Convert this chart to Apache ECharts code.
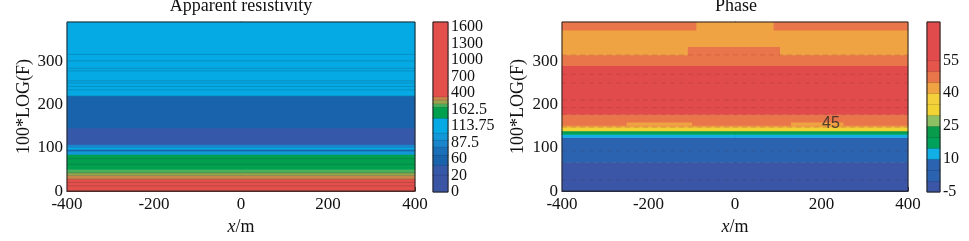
<!DOCTYPE html>
<html>
<head>
<meta charset="utf-8">
<script src="https://cdn.jsdelivr.net/npm/echarts@6/dist/echarts.min.js"></script>
<style>
html, body { margin: 0; padding: 0; background: #fff; }
#main { width: 969px; height: 241px; }
</style>
</head>
<body>
<div id="main"></div>
<script>
// ---- apparent resistivity ----
// colour bar tick labels (evenly spaced on the bar)
var resTicks = ['0', '20', '60', '87.5', '113.75', '162.5', '400', '700', '1000', '1300', '1600'];
// colour level boundaries, in colour bar tick units
var resLevelEdges = [0, 1.03, 1.64, 2.24, 2.73, 3.15, 3.58, 4.48, 5.15, 5.36, 5.58, 5.78, 10.3];
// horizontal bands of the section (100*LOG(F)) and their colour level
var resBandFrom  = [0, 28, 36, 42, 50, 85, 93, 97, 101, 108, 146, 220];
var resBandTo    = [28, 36, 42, 50, 85, 93, 97, 101, 108, 146, 220, 391];
var resBandLevel = [11, 10, 9, 8, 7, 5, 3, 6, 4, 1, 2, 6];
// contour lines
var resContours = [12, 20, 28, 36, 42, 62, 75, 93, 220, 234, 242, 250, 255, 278, 284, 301, 316];

// ---- phase ----
var phaseTicks = [-5, 10, 25, 40, 55];
var phaseEdges = [-5, 0, 5, 10, 15, 20, 25, 30, 35, 40, 45, 50, 55, 72.5];
// patches of the section: x range, 100*LOG(F) range, phase value
var phaseX0 = [-400, -400, -400, -400, -400, -400, -400, -400, -400, -400, -250, 130, -110, -400, 105, -400, 90, -90, -400, 90];
var phaseX1 = [400, 400, 400, 400, 400, 400, 400, 400, 400, 400, -100, 250, 105, -110, 400, -90, 400, 90, -90, 400];
var phaseY0 = [0, 66, 124, 131, 135, 139, 148, 152, 177, 290, 152, 152, 315, 315, 315, 334, 334, 334, 372, 372];
var phaseY1 = [66, 124, 131, 135, 139, 148, 152, 177, 290, 315, 158, 158, 334, 334, 334, 372, 372, 391, 391, 391];
var phaseVal = [-2, 5, 12, 17, 22, 33, 42, 47, 57, 47, 42, 42, 47, 42, 42, 42, 42, 42, 47, 47];
var phaseContours = [25, 66, 93, 148, 177, 193, 211, 250, 270, 315];
var phaseLabelX = [222];
var phaseLabelY = [155];
var phaseLabelText = ['45'];

var resColors = ['#3b55a5', '#3658a8', '#1963ad', '#1a70b8', '#1a85ca', '#1298d8',
                 '#05a9e4', '#00a04f', '#4cae5a', '#9ca34f', '#c8864a', '#e3504b'];
var phaseColors = ['#3b56a6', '#2c63b1', '#2c63b1', '#12aee6', '#00a15a', '#089b4c', '#8dc063',
                   '#f2d335', '#f4d03c', '#f0a343', '#e9764a', '#e4554b', '#e24b4b'];

function phaseColor(v) {
    for (var i = 0; i < phaseEdges.length - 1; i++) {
        if (v < phaseEdges[i + 1]) return phaseColors[i];
    }
    return phaseColors[phaseColors.length - 1];
}

// data: [x0, x1, y0, y1, v]
function rectRenderer(colorOf, stroke) {
    return function (params, api) {
        var a = api.coord([api.value(0), api.value(3)]);
        var b = api.coord([api.value(1), api.value(2)]);
        return {
            type: 'rect',
            shape: { x: a[0] - 0.3, y: a[1] - 0.3, width: b[0] - a[0] + 0.6, height: b[1] - a[1] + 0.6 },
            style: { fill: colorOf(api.value(4)), stroke: stroke || null, lineWidth: stroke ? 0.5 : 0 }
        };
    };
}
function lineRenderer(dash, stroke) {
    return function (params, api) {
        var a = api.coord([-400, api.value(0)]);
        var b = api.coord([400, api.value(0)]);
        return {
            type: 'line',
            shape: { x1: a[0], y1: a[1], x2: b[0], y2: b[1] },
            style: { stroke: stroke, lineWidth: 0.6, lineDash: dash }
        };
    };
}

var resRects = resBandFrom.map(function (f, i) { return [-400, 400, f, resBandTo[i], resBandLevel[i]]; });
var resBar = [];
for (var i = 0; i < resLevelEdges.length - 1; i++) resBar.push([0, 1, resLevelEdges[i], resLevelEdges[i + 1], i]);
var phaseRects = phaseVal.map(function (v, i) { return [phaseX0[i], phaseX1[i], phaseY0[i], phaseY1[i], v]; });
var phaseBar = [];
for (var j = 0; j < phaseEdges.length - 1; j++) phaseBar.push([0, 1, phaseEdges[j], phaseEdges[j + 1], (phaseEdges[j] + phaseEdges[j + 1]) / 2]);

var serif = 'Liberation Serif';

function mainX(grid) {
    return {
        gridIndex: grid, type: 'value', min: -400, max: 400, interval: 200,
        axisLine: { lineStyle: { color: '#222' } },
        axisTick: { inside: true, length: 4, lineStyle: { color: '#222' } },
        axisLabel: { fontFamily: serif, fontSize: 17, color: '#111', margin: 5 },
        splitLine: { show: false },
        name: '{i|x}/m', nameLocation: 'middle', nameGap: 24,
        nameTextStyle: { fontFamily: serif, fontSize: 18, color: '#111',
            rich: { i: { fontFamily: serif, fontStyle: 'italic', fontSize: 18, color: '#111' } } }
    };
}
function mainY(grid, gap) {
    return {
        gridIndex: grid, type: 'value', min: 0, max: 391,
        axisLine: { lineStyle: { color: '#222' } },
        axisTick: { inside: true, length: 4, customValues: [0, 100, 200, 300], lineStyle: { color: '#222' } },
        axisLabel: { customValues: [0, 100, 200, 300], fontFamily: serif, fontSize: 17, color: '#111', margin: 4 },
        splitLine: { show: false },
        name: '100*LOG(F)', nameLocation: 'middle', nameGap: gap, nameRotate: 90,
        nameTextStyle: { fontFamily: serif, fontSize: 18, color: '#111' }
    };
}
function barX(grid) {
    return { gridIndex: grid, type: 'value', min: 0, max: 1, show: false };
}

var chart = echarts.init(document.getElementById('main'));
chart.setOption({
    animation: false,
    title: [
        { text: 'Apparent resistivity', left: 241, top: -3, padding: 0, textAlign: 'center',
          textStyle: { fontFamily: serif, fontSize: 18, fontWeight: 'normal', color: '#111' } },
        { text: 'Phase', left: 736, top: -3, padding: 0, textAlign: 'center',
          textStyle: { fontFamily: serif, fontSize: 18, fontWeight: 'normal', color: '#111' } }
    ],
    grid: [
        { left: 67, top: 22, width: 348, height: 170, show: true, borderColor: '#222', borderWidth: 1, z: 10 },
        { left: 433, top: 22, width: 15, height: 170, show: true, borderColor: '#222', borderWidth: 1, z: 10 },
        { left: 562, top: 22, width: 346, height: 170, show: true, borderColor: '#222', borderWidth: 1, z: 10 },
        { left: 927, top: 22, width: 13, height: 170, show: true, borderColor: '#222', borderWidth: 1, z: 10 }
    ],
    xAxis: [mainX(0), barX(1), mainX(2), barX(3)],
    yAxis: [
        mainY(0, 34),
        { gridIndex: 1, type: 'value', position: 'right', min: 0, max: 10.3,
          axisLine: { show: false }, axisTick: { show: false }, splitLine: { show: false },
          axisLabel: { customValues: [0, 1, 2, 3, 4, 5, 6, 7, 8, 9, 10], margin: 3,
                       fontFamily: serif, fontSize: 16, color: '#111',
                       formatter: function (v) { return resTicks[Math.round(v)]; } } },
        mainY(2, 35),
        { gridIndex: 3, type: 'value', position: 'right', min: -5, max: 72.5,
          axisLine: { show: false }, axisTick: { show: false }, splitLine: { show: false },
          axisLabel: { customValues: phaseTicks, margin: 3, fontFamily: serif, fontSize: 16, color: '#111' } }
    ],
    series: [
        { type: 'custom', xAxisIndex: 0, yAxisIndex: 0, data: resRects,
          renderItem: rectRenderer(function (l) { return resColors[l]; }) },
        { type: 'custom', xAxisIndex: 0, yAxisIndex: 0, data: resContours.map(function (y) { return [y]; }),
          renderItem: lineRenderer(null, 'rgba(20,30,40,0.3)') },
        { type: 'custom', xAxisIndex: 1, yAxisIndex: 1, data: resBar,
          renderItem: rectRenderer(function (l) { return resColors[l]; }, 'rgba(0,0,0,0.25)') },
        { type: 'custom', xAxisIndex: 2, yAxisIndex: 2, data: phaseRects,
          renderItem: rectRenderer(phaseColor) },
        { type: 'custom', xAxisIndex: 2, yAxisIndex: 2, data: phaseContours.map(function (y) { return [y]; }),
          renderItem: lineRenderer([5, 4], 'rgba(70,30,30,0.25)') },
        { type: 'scatter', xAxisIndex: 2, yAxisIndex: 2, symbolSize: 0,
          data: phaseLabelX.map(function (x, i) { return [x, phaseLabelY[i], phaseLabelText[i]]; }),
          label: { show: true, position: 'inside', formatter: function (p) { return p.data[2]; },
                   fontFamily: 'Liberation Sans', fontSize: 16, color: '#262626' } },
        { type: 'custom', xAxisIndex: 3, yAxisIndex: 3, data: phaseBar,
          renderItem: rectRenderer(phaseColor, 'rgba(0,0,0,0.25)') }
    ]
});
</script>
</body>
</html>
